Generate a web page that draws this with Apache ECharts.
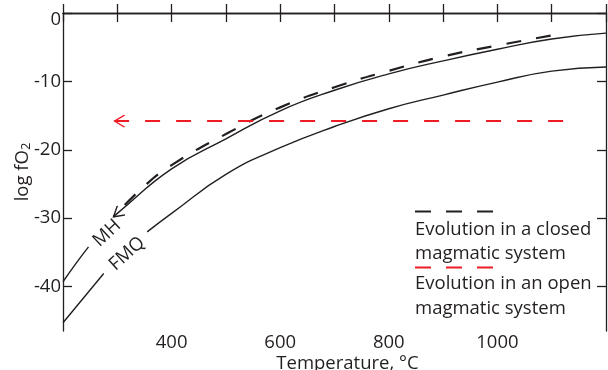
<!DOCTYPE html>
<html>
<head>
<meta charset="utf-8">
<script src="https://cdn.jsdelivr.net/npm/echarts@6/dist/echarts.min.js"></script>
<style>
  html, body { margin: 0; padding: 0; background: #fff; }
  #chart { width: 608px; height: 370px; }
</style>
</head>
<body>
<div id="chart"></div>
<script>
// buffer curves (T in degC, log fO2)
const mhT = [200, 225, 247, null, 293, 300, 400, 500, 600, 700, 800, 900, 1000, 1100, 1200];
const mhV = [-39.3, -36.5, -34.2, null, -29.8, -29.3, -22.8, -18.4, -14.3, -11.3, -8.9, -7.0, -5.3, -3.8, -2.95];

const fmqT = [200, 275, null, 355, 400, 500, 600, 700, 800, 900, 1000, 1100, 1200];
const fmqV = [-45.3, -38.1, null, -32.0, -29.3, -23.6, -19.7, -16.6, -14.0, -12.0, -10.1, -8.5, -7.9];

// evolution paths (drawn from their start toward the arrow)
const closedT = [1098, 1000, 900, 800, 700, 600, 500, 400, 350, 293];
const closedV = [-3.3, -4.75, -6.35, -8.45, -10.85, -13.8, -17.7, -22.25, -25.3, -29.8];

const openT = [1121, 295];
const openV = [-15.8, -15.8];

const xLabels = [400, 600, 800, 1000];
const yTicks = [0, -10, -20, -30, -40];

const INK = '#231f20';
const RED = '#ed1c24';
const FONT = '"Open Sans", "Noto Sans", sans-serif';
const FS = 18.5;
const ARROW = 'path://M20,0 L10,6 L20,12 M0,6';

const pairs = (xs, ys) => xs.map((x, i) => (x === null ? [null, null] : [x, ys[i]]));

const withArrow = (pts, rot) =>
  pts.map((p, i) =>
    i === pts.length - 1
      ? { value: p, symbol: ARROW, symbolSize: [20, 12], symbolRotate: rot }
      : { value: p, symbol: 'none' }
  );

const chart = echarts.init(document.getElementById('chart'));

const baseX = {
  type: 'value',
  min: 200,
  max: 1200,
  interval: 100,
  splitLine: { show: false },
  axisLine: { lineStyle: { color: INK, width: 1.3 } },
  axisTick: { inside: true, length: 9, lineStyle: { color: INK, width: 1.3 } }
};
const baseY = {
  type: 'value',
  min: -46.5,
  max: 0,
  splitLine: { show: false },
  axisLine: { lineStyle: { color: INK, width: 1.3 } },
  axisTick: { inside: true, length: 9, customValues: yTicks, lineStyle: { color: INK, width: 1.3 } }
};

const labelMark = (coord, text, rot) => ({
  symbol: 'rect',
  symbolSize: 1,
  itemStyle: { color: 'rgba(0,0,0,0)' },
  label: {
    show: true,
    position: 'inside',
    formatter: text,
    rotate: rot,
    color: INK,
    fontSize: FS,
    fontFamily: FONT
  },
  data: [{ coord: coord }]
});

chart.setOption({
  animation: false,
  grid: { left: 63, right: 2, top: 13, bottom: 39, outerBoundsMode: 'none', containLabel: false },
  xAxis: [
    {
      ...baseX,
      position: 'bottom',
      name: 'Temperature, °C',
      nameLocation: 'middle',
      nameGap: 23,
      nameMoveOverlap: false,
      nameTextStyle: { color: INK, fontSize: FS, fontFamily: FONT, padding: [0, 0, 0, 26] },
      axisLabel: {
        customValues: xLabels,
        margin: 2,
        color: INK,
        fontSize: FS,
        fontFamily: FONT,
        formatter: (v) => String(v)
      }
    },
    { ...baseX, position: 'top', axisLabel: { show: false } }
  ],
  yAxis: [
    {
      ...baseY,
      position: 'left',
      name: 'log fO{s|2}',
      nameLocation: 'middle',
      nameRotate: 90,
      nameGap: 30,
      nameMoveOverlap: false,
      nameTextStyle: {
        color: INK,
        fontSize: FS,
        fontFamily: FONT,
        rich: { s: { fontSize: 13, fontFamily: FONT, color: INK, verticalAlign: 'bottom', padding: [8, 0, 0, 0] } }
      },
      axisLabel: {
        customValues: yTicks,
        margin: 2,
        color: INK,
        fontSize: FS,
        fontFamily: FONT,
        formatter: (v) => (v === 0 ? '{t|0}' : String(v)),
        rich: { t: { fontSize: FS, fontFamily: FONT, color: INK, padding: [13, 0, 0, 0] } }
      }
    },
    { ...baseY, position: 'right', axisLabel: { show: false } }
  ],
  series: [
    {
      name: 'MH',
      type: 'line',
      data: pairs(mhT, mhV),
      smooth: true,
      symbol: 'none',
      silent: true,
      lineStyle: { color: INK, width: 1.4 },
      markPoint: labelMark([281, -32.2], 'MH', 43)
    },
    {
      name: 'FMQ',
      type: 'line',
      data: pairs(fmqT, fmqV),
      smooth: true,
      symbol: 'none',
      silent: true,
      lineStyle: { color: INK, width: 1.4 },
      markPoint: labelMark([318, -35.2], 'FMQ', 42)
    },
    {
      name: 'closed',
      type: 'line',
      data: withArrow(pairs(closedT, closedV), 40),
      smooth: true,
      symbol: 'none',
      showSymbol: true,
      silent: true,
      itemStyle: { color: 'rgba(0,0,0,0)', borderColor: INK, borderWidth: 1.5 },
      lineStyle: { color: INK, width: 2.2, type: [15, 15] }
    },
    {
      name: 'open',
      type: 'line',
      data: withArrow(pairs(openT, openV), 0),
      symbol: 'none',
      showSymbol: true,
      silent: true,
      itemStyle: { color: 'rgba(0,0,0,0)', borderColor: RED, borderWidth: 1.5 },
      lineStyle: { color: RED, width: 2, type: [15, 16] }
    }
  ],
  graphic: [
    { type: 'line', shape: { x1: 415, y1: 211.5, x2: 494, y2: 211.5 }, style: { stroke: INK, lineWidth: 2, lineDash: [16, 15] } },
    { type: 'text', x: 415, y: 229.5, style: { text: 'Evolution in a closed', font: FS + 'px ' + FONT, fill: INK, verticalAlign: 'middle' } },
    { type: 'text', x: 415, y: 254, style: { text: 'magmatic system', font: FS + 'px ' + FONT, fill: INK, verticalAlign: 'middle' } },
    { type: 'line', shape: { x1: 415, y1: 267.5, x2: 494, y2: 267.5 }, style: { stroke: RED, lineWidth: 2, lineDash: [16, 15] } },
    { type: 'text', x: 415, y: 284, style: { text: 'Evolution in an open', font: FS + 'px ' + FONT, fill: INK, verticalAlign: 'middle' } },
    { type: 'text', x: 415, y: 308.5, style: { text: 'magmatic system', font: FS + 'px ' + FONT, fill: INK, verticalAlign: 'middle' } }
  ]
});
</script>
</body>
</html>
